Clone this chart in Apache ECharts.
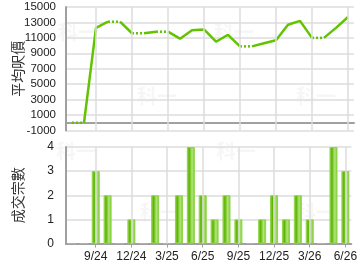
<!DOCTYPE html>
<html><head><meta charset="utf-8">
<script src="https://cdn.jsdelivr.net/npm/echarts@6/dist/echarts.min.js"></script>
<style>html,body{margin:0;padding:0;background:#fff}#c{width:360px;height:270px}</style>
</head><body><div id="c"></div>
<script>
var months = ['7/24','8/24','9/24','10/24','11/24','12/24','1/25','2/25','3/25','4/25','5/25','6/25','7/25','8/25','9/25','10/25','11/25','12/25','1/26','2/26','3/26','4/26','5/26','6/26'];
var tickMonths = ['9/24','12/24','3/25','6/25','9/25','12/25','3/26','6/26'];
var avgPrice = [null,null,12300,13100,null,11600,null,11800,null,10900,12000,12100,10500,11400,9900,null,10300,10700,12700,13200,11000,null,12300,13700];
var dealCount = [0,0,3,2,0,1,0,2,0,2,4,2,1,2,1,0,1,2,1,2,1,0,4,3];
var priceTicks = {min:-1000, max:15000, interval:2000};
var countTicks = {min:0, max:4, interval:1};

// carry forward values for months without data
var shown = [], last = 0;
for (var i = 0; i < avgPrice.length; i++) { if (avgPrice[i] != null) last = avgPrice[i]; shown.push(last); }

var lineColor = '#62c400';
var lineSeries = [];
var runStart = 0, runDotted = avgPrice[1] == null;
function pushRun(s, e, dotted) {
  var d = shown.map(function (v, k) { return (k >= s && k <= e) ? v : null; });
  lineSeries.push({type:'line', xAxisIndex:0, yAxisIndex:0, data:d, symbol:'none', silent:true,
    connectNulls:false, animation:false, z:3,
    lineStyle:{color:lineColor, width:2.5, type: dotted ? [2,2] : 'solid', cap:'butt'}});
}
for (var j = 1; j < shown.length - 1; j++) {
  var dot = avgPrice[j + 1] == null;
  if (dot !== runDotted) { pushRun(runStart, j, runDotted); runStart = j; runDotted = dot; }
}
pushRun(runStart, shown.length - 1, runDotted);

function vLines(xi, yi) {
  return {type:'line', xAxisIndex:xi, yAxisIndex:yi, data:[], silent:true, z:1,
    markLine:{silent:true, symbol:['none','none'], label:{show:false}, animation:false,
      lineStyle:{color:'#dcdcdc', width:1.5, type:'solid'},
      data: tickMonths.map(function (m) { return {xAxis:m}; })}};
}

var every3 = function (idx) { return idx % 3 === 2; };
var axisLineStyle = {show:true, lineStyle:{color:'#a0a0a0', width:2}};
var wm = 'rgba(0,0,0,0.035)';
function w(x, y) { return {type:'text', left:x, top:y, silent:true, style:{text:'科一', fill:wm, font:'bold 20px "Noto Sans CJK TC"'}}; }
var nameStyle = {fontSize:14, color:'#333', fontFamily:'Noto Sans CJK TC'};

var chart = echarts.init(document.getElementById('c'), null, {renderer:'canvas'});
chart.setOption({
  animation:false,
  graphic:[w(58,22), w(137,86), w(214,22), w(296,86), w(56,141), w(140,202), w(216,141), w(296,202)],
  grid:[
    {left:66, right:6, top:7, height:123.5},
    {left:66, right:6, top:147, height:96.5}
  ],
  xAxis:[
    {type:'category', gridIndex:0, data:months, boundaryGap:true,
     axisLine:axisLineStyle, axisTick:{show:false}, axisLabel:{show:false}, splitLine:{show:false}},
    {type:'category', gridIndex:1, data:months, boundaryGap:true,
     axisLine:axisLineStyle,
     axisTick:{show:true, interval:every3, alignWithLabel:true, length:4, lineStyle:{color:'#a0a0a0'}},
     axisLabel:{show:true, interval:every3, color:'#222', fontSize:12, fontFamily:'Liberation Sans', margin:7},
     splitLine:{show:false}}
  ],
  yAxis:[
    {type:'value', gridIndex:0, min:priceTicks.min, max:priceTicks.max, interval:priceTicks.interval,
     name:'平均呎價', nameLocation:'middle', nameRotate:90, nameGap:41, nameMoveOverlap:false,
     nameTextStyle:nameStyle,
     axisLine:axisLineStyle, axisTick:{show:false},
     axisLabel:{color:'#222', fontSize:11.5, fontFamily:'Liberation Sans', margin:10,
       formatter:function (v) { return String(v); }},
     splitLine:{show:true, lineStyle:{color:'#dcdcdc', width:1.5}}},
    {type:'value', gridIndex:1, min:countTicks.min, max:countTicks.max, interval:countTicks.interval,
     name:'成交宗數', nameLocation:'middle', nameRotate:90, nameGap:41, nameMoveOverlap:false,
     nameTextStyle:nameStyle,
     axisLine:axisLineStyle, axisTick:{show:false},
     axisLabel:{color:'#222', fontSize:12, fontFamily:'Liberation Sans', margin:12},
     splitLine:{show:true, lineStyle:{color:'#dcdcdc', width:1.5}}}
  ],
  series: [vLines(0,0), vLines(1,1)].concat(lineSeries).concat([{
    type:'bar', xAxisIndex:1, yAxisIndex:1, data:dealCount, barWidth:8, silent:true, z:3,
    itemStyle:{
      color:new echarts.graphic.LinearGradient(0,0,1,0,[
        {offset:0, color:'#9ad95a'},{offset:0.3, color:'#5cb400'},
        {offset:0.65, color:'#b2e67a'},{offset:1, color:'#74c62a'}]),
      borderColor:'#8fd44a', borderWidth:1
    }
  }])
});
</script></body></html>
